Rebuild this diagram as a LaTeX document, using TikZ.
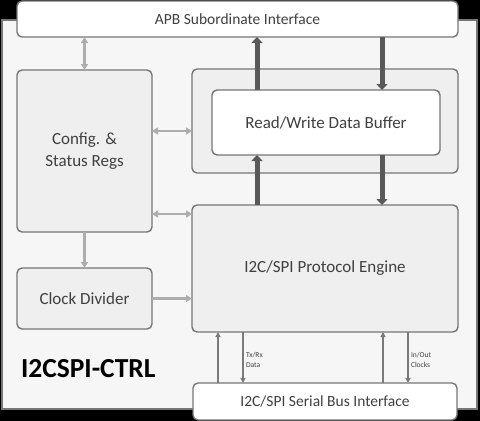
\documentclass[tikz,border=0pt]{standalone}
\usepackage{fontspec}
\setmainfont{Carlito}
\usetikzlibrary{arrows.meta}
\definecolor{edgegray}{HTML}{767676}
\definecolor{blockgray}{HTML}{EFEFEF}
\definecolor{framegray}{HTML}{F6F6F6}
\definecolor{textgray}{HTML}{404040}
\definecolor{linkgray}{HTML}{ADADAD}
\definecolor{busgray}{HTML}{595959}
\definecolor{wiregray}{HTML}{7A7A7A}
\begin{document}
\begin{tikzpicture}[x=1pt, y=-1pt]
\tikzset{ inner sep=0pt, outer sep=0pt,
  block/.style={draw=edgegray, line width=1.4pt, rounded corners=5pt, fill=blockgray,
    text=textgray, font=\fontsize{17}{20}\selectfont, align=center},
  whiteblock/.style={block, fill=white},
  busblock/.style={whiteblock, font=\fontsize{15.5}{18}\selectfont},
  link/.style={{Triangle[length=6pt,width=7pt]}-{Triangle[length=6pt,width=7pt]}, draw=linkgray, line width=2.2pt},
  linkto/.style={-{Triangle[length=6pt,width=7pt]}, draw=linkgray, line width=2.2pt},
  bus/.style={-{Triangle[length=6pt,width=11pt]}, draw=busgray, line width=5pt},
  wire/.style={-{Triangle[length=5pt,width=5pt]}, draw=wiregray, line width=1.5pt},
  tag/.style={text=textgray, font=\fontsize{7.5}{10}\selectfont, align=left, anchor=west},
}

\useasboundingbox (0,0) rectangle (480,421);
\fill[black] (0,0) rectangle (480,421);

% frame of the core
\draw[draw=edgegray, line width=1.4pt, fill=framegray] (2,20) rectangle (477,409);
\node[text=black, font=\fontsize{27.5}{30}\selectfont\bfseries, anchor=west] (CoreName) at (21,369) {I2CSPI-CTRL};

%%% Blocks

% bus interfaces
\node[busblock, minimum width=441pt, minimum height=36pt] (APB) at (237.5,19) {APB Subordinate Interface};
\node[busblock, minimum width=264pt, minimum height=37pt] (Serial) at (325,401.5) {I2C/SPI Serial Bus Interface};

% registers and clock
\node[block, minimum width=135pt, minimum height=162pt] (Regs) at (84.5,151) {Config. \&\\[2pt]Status Regs};
\node[block, minimum width=135pt, minimum height=61pt] (ClkDiv) at (84.5,298.5) {Clock Divider};

% data buffer
\node[block, minimum width=266pt, minimum height=104pt] (BufWrap) at (325,121) {};
\node[whiteblock, minimum width=228pt, minimum height=65pt] (Buffer) at (326,122.5) {Read/Write Data Buffer};

% protocol engine
\node[block, minimum width=266pt, minimum height=127pt] (Engine) at (325,268.5) {I2C/SPI Protocol Engine};

%%% Lines

% registers
\draw[link] (Regs.north) -- (Regs.north |- APB.south);
\draw[link] ([yshift=20pt]Regs.east) -- ([yshift=20pt]Regs.east -| BufWrap.west);
\draw[link] ([yshift=-63pt]Regs.east) -- ([yshift=-63pt]Regs.east -| Engine.west);
\draw[linkto] (Regs.south) -- (ClkDiv.north);
\draw[linkto] (ClkDiv.east) -- (ClkDiv.east -| Engine.west);

% APB <-> buffer
\draw[bus] ([xshift=-69pt]Buffer.north) -- ([xshift=-69pt]Buffer.north |- APB.south);
\draw[bus] ([xshift=56pt]Buffer.north |- APB.south) -- ([xshift=56pt]Buffer.north);

% buffer <-> engine
\draw[bus] ([xshift=-69pt]Buffer.south |- Engine.north) -- ([xshift=-69pt]Buffer.south);
\draw[bus] ([xshift=56pt]Buffer.south) -- ([xshift=56pt]Buffer.south |- Engine.north);

% engine <-> serial bus
\draw[wire] ([xshift=-107pt]Serial.north -| Engine.south) -- ([xshift=-107pt]Engine.south);
\draw[wire] ([xshift=-82pt]Engine.south) -- ([xshift=-82pt]Engine.south |- Serial.north);
\draw[wire] ([xshift=58pt]Serial.north -| Engine.south) -- ([xshift=58pt]Engine.south);
\draw[wire] ([xshift=83pt]Engine.south) -- ([xshift=83pt]Engine.south |- Serial.north);
\node[tag] (TxRx) at (246,360) {Tx/Rx\\Data};
\node[tag] (InOut) at (411,360) {In/Out\\Clocks};

\end{tikzpicture}
\end{document}
